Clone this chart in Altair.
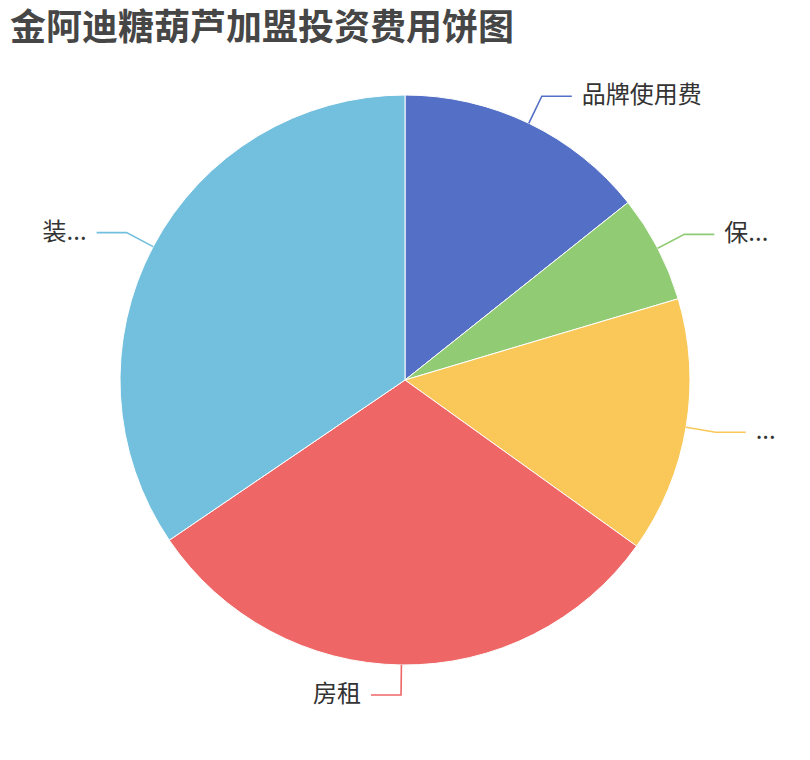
import numpy as np
import pandas as pd
import altair as alt

# ---- data ----
categories = ["品牌使用费", "保...", "...", "房租", "装..."]
values = [14.3, 6.1, 14.5, 30.6, 34.5]
colors = ["#5470c6", "#91cc75", "#fac858", "#ee6666", "#73c0de"]
title_text = ["金阿迪糖葫芦加盟投资费用饼图"]

FONT = "Noto Sans CJK SC"
W, H = 794, 744
CX, CY = 397, 372
R = 285
R_LINE = 315
LEN2 = 30
GAP = 10

df = pd.DataFrame({"name": categories, "value": values, "idx": range(len(categories))})
frac = df["value"] / df["value"].sum()
end = frac.cumsum() * 2 * np.pi
start = end - frac * 2 * np.pi
mid = (start + end) / 2
side = np.where(np.sin(mid) >= 0, 1, -1)

line_rows = []
text_rows = []
for i, name in enumerate(categories):
    a = mid.iloc[i]
    s = side[i]
    x0, y0 = CX + R * np.sin(a), CY - R * np.cos(a)
    x1, y1 = CX + R_LINE * np.sin(a), CY - R_LINE * np.cos(a)
    x2, y2 = x1 + s * LEN2, y1
    for p, (x, y) in enumerate([(x0, y0), (x1, y1), (x2, y2)]):
        line_rows.append({"name": name, "pt": p, "x": x, "y": y})
    text_rows.append({"name": name, "label": name, "x": x2 + s * GAP, "y": y2, "side": int(s)})

lines_df = pd.DataFrame(line_rows)
text_df = pd.DataFrame(text_rows)
title_df = pd.DataFrame({"t": title_text})

color_scale = alt.Scale(domain=categories, range=colors)

pie = alt.Chart(df).mark_arc(outerRadius=R, stroke="#ffffff", strokeWidth=1).encode(
    theta=alt.Theta("value:Q", stack=True),
    order=alt.Order("idx:Q"),
    color=alt.Color("name:N", scale=color_scale, legend=None),
    x=alt.value(CX),
    y=alt.value(CY),
)

lines = alt.Chart(lines_df).mark_line(strokeWidth=1.6).encode(
    x=alt.X("x:Q", scale=None, axis=None),
    y=alt.Y("y:Q", scale=None, axis=None),
    color=alt.Color("name:N", scale=color_scale, legend=None),
    detail="name:N",
    order=alt.Order("pt:Q"),
)

text_right = alt.Chart(text_df).transform_filter("datum.side > 0").mark_text(
    align="left", baseline="middle", fontSize=24, font=FONT, color="#333333"
).encode(
    x=alt.X("x:Q", scale=None, axis=None),
    y=alt.Y("y:Q", scale=None, axis=None),
    text="label:N",
)

text_left = alt.Chart(text_df).transform_filter("datum.side < 0").mark_text(
    align="right", baseline="middle", fontSize=24, font=FONT, color="#333333"
).encode(
    x=alt.X("x:Q", scale=None, axis=None),
    y=alt.Y("y:Q", scale=None, axis=None),
    text="label:N",
)

title = alt.Chart(title_df).mark_text(
    align="left", baseline="alphabetic", fontSize=36, fontWeight="bold",
    font=FONT, color="#464646"
).encode(
    x=alt.value(2),
    y=alt.value(32),
    text="t:N",
)

chart = alt.layer(pie, lines, text_right, text_left, title).properties(
    width=W,
    height=H,
    autosize=alt.AutoSizeParams(type="none"),
    padding={"top": 0, "left": 0, "right": 0, "bottom": 0},
).configure_view(stroke=None)

chart.save("out.html", embed_options={"renderer": "svg", "actions": False})
